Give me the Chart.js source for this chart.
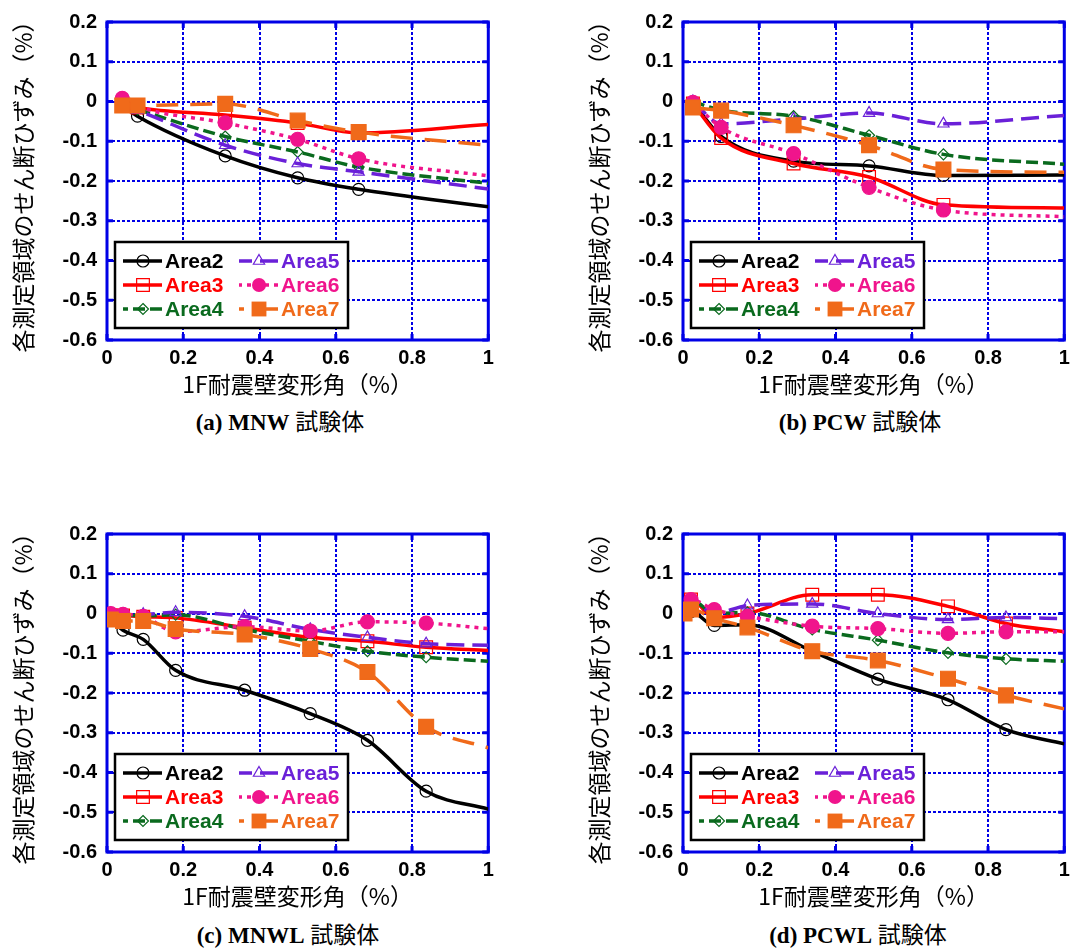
<!DOCTYPE html>
<html>
<head>
<meta charset="utf-8">
<script src="https://cdn.jsdelivr.net/npm/chart.js@4.4.1/dist/chart.umd.min.js"></script>
<style>
  html, body { margin: 0; padding: 0; background: #fff; overflow: hidden; width: 1071px; height: 949px; }
  .panel { position: absolute; width: 500px; height: 400px; }
  .cap { position: absolute; white-space: nowrap; transform: translate(-50%, -50%); font-size: 23px; color: #000; }
  .cap b { font-family: 'Liberation Serif', serif; font-weight: bold; }
  .cap span { font-family: 'Noto Sans CJK JP', sans-serif; }
</style>
</head>
<body>
<div class="panel" style="left:0px;top:0px"><canvas id="chartA" width="500" height="400"></canvas></div>
<div class="panel" style="left:576px;top:0px"><canvas id="chartB" width="500" height="400"></canvas></div>
<div class="panel" style="left:0px;top:512px"><canvas id="chartC" width="500" height="400"></canvas></div>
<div class="panel" style="left:576px;top:512px"><canvas id="chartD" width="500" height="400"></canvas></div>
<div class="cap" style="left:280px;top:420px"><b>(a) MNW</b> <span>試験体</span></div>
<div class="cap" style="left:860px;top:420px"><b>(b) PCW</b> <span>試験体</span></div>
<div class="cap" style="left:288px;top:933px"><b>(c) MNWL</b> <span>試験体</span></div>
<div class="cap" style="left:858px;top:933px"><b>(d) PCWL</b> <span>試験体</span></div>
<script>
// series names + axis ticks
var seriesNames = ['Area2', 'Area3', 'Area4', 'Area5', 'Area6', 'Area7'];
var xTickValues = [0, 0.2, 0.4, 0.6, 0.8, 1];
var xTickLabels = ['0', '0.2', '0.4', '0.6', '0.8', '1'];
var yTickValues = [-0.6, -0.5, -0.4, -0.3, -0.2, -0.1, 0, 0.1, 0.2];
var yTickLabels = ['-0.6', '-0.5', '-0.4', '-0.3', '-0.2', '-0.1', '0', '0.1', '0.2'];
var xTitle = '1F耐震壁変形角（%）';
var yTitle = '各測定領域のせん断ひずみ（%）';

// (a) MNW
var mnwX     = [0.04, 0.08, 0.31, 0.5, 0.66, 1];
var mnwArea2 = [-0.01, -0.037, -0.137, -0.192, -0.221, -0.265];
var mnwArea3 = [-0.005, -0.015, -0.034, -0.054, -0.079, -0.058];
var mnwArea4 = [-0.008, -0.02, -0.088, -0.127, -0.165, -0.206];
var mnwArea5 = [-0.008, -0.022, -0.11, -0.156, -0.177, -0.22];
var mnwArea6 = [0.008, -0.012, -0.054, -0.095, -0.144, -0.187];
var mnwArea7 = [-0.01, -0.01, -0.006, -0.048, -0.077, -0.11];

// (b) PCW
var pcwX     = [0.026, 0.1, 0.29, 0.488, 0.683, 1];
var pcwArea2 = [-0.002, -0.088, -0.15, -0.162, -0.186, -0.185];
var pcwArea3 = [-0.005, -0.092, -0.156, -0.19, -0.26, -0.268];
var pcwArea4 = [0.0, -0.022, -0.037, -0.085, -0.133, -0.158];
var pcwArea5 = [0.0, -0.056, -0.044, -0.029, -0.056, -0.035];
var pcwArea6 = [-0.002, -0.065, -0.131, -0.216, -0.273, -0.29];
var pcwArea7 = [-0.015, -0.023, -0.06, -0.11, -0.171, -0.178];

// (c) MNWL
var mnwlX     = [0.01, 0.042, 0.095, 0.18, 0.361, 0.533, 0.683, 0.837, 1];
var mnwlArea2 = [-0.015, -0.042, -0.065, -0.143, -0.193, -0.252, -0.319, -0.447, -0.492];
var mnwlArea3 = [-0.005, -0.005, -0.008, -0.011, -0.036, -0.06, -0.07, -0.085, -0.093];
var mnwlArea4 = [-0.002, -0.004, -0.006, -0.003, -0.04, -0.07, -0.095, -0.11, -0.12];
var mnwlArea5 = [0.0, -0.002, -0.002, 0.003, -0.007, -0.04, -0.06, -0.076, -0.08];
var mnwlArea6 = [0.0, -0.002, -0.007, -0.046, -0.033, -0.044, -0.021, -0.024, -0.038];
var mnwlArea7 = [-0.015, -0.019, -0.019, -0.039, -0.053, -0.089, -0.147, -0.285, -0.338];

// (d) PCWL
var pcwlX     = [0.004, 0.021, 0.082, 0.169, 0.339, 0.511, 0.695, 0.847, 1];
var pcwlArea2 = [0.0, 0.005, -0.03, -0.028, -0.095, -0.165, -0.217, -0.292, -0.328];
var pcwlArea3 = [0.01, 0.035, -0.01, 0.0, 0.047, 0.047, 0.018, -0.025, -0.046];
var pcwlArea4 = [0.01, 0.035, 0.0, 0.003, -0.04, -0.067, -0.099, -0.114, -0.12];
var pcwlArea5 = [0.01, 0.03, 0.0, 0.02, 0.024, 0.0, -0.015, -0.01, -0.013];
var pcwlArea6 = [0.01, 0.035, 0.01, -0.007, -0.032, -0.038, -0.05, -0.046, -0.046];
var pcwlArea7 = [0.0, 0.01, -0.012, -0.035, -0.095, -0.118, -0.164, -0.206, -0.24];

var blue = '#0000e6';
var styles = [
  { color: '#000000', dash: [], point: 'circle', radius: 6, filled: false },
  { color: '#ff0000', dash: [], point: 'rect', radius: 9, filled: false },
  { color: '#0a6a1e', dash: [12, 5], point: 'rectRot', radius: 5.5, filled: false },
  { color: '#6a20d8', dash: [18, 8], point: 'triangle', radius: 6.5, filled: false },
  { color: '#f0148c', dash: [4, 5], point: 'circle', radius: 7, filled: true },
  { color: '#f06a1a', dash: [22, 12], point: 'rect', radius: 10.5, filled: true }
];

function drawMarker(ctx, s, x, y) {
  var r = s.radius;
  ctx.beginPath();
  if (s.point === 'circle') {
    ctx.arc(x, y, r, 0, Math.PI * 2);
  } else if (s.point === 'rect') {
    var h = r * Math.SQRT1_2;
    ctx.rect(x - h, y - h, 2 * h, 2 * h);
  } else if (s.point === 'rectRot') {
    ctx.moveTo(x, y - r); ctx.lineTo(x + r, y); ctx.lineTo(x, y + r); ctx.lineTo(x - r, y); ctx.closePath();
  } else {
    ctx.moveTo(x, y - r); ctx.lineTo(x + r * 0.866, y + r * 0.5); ctx.lineTo(x - r * 0.866, y + r * 0.5); ctx.closePath();
  }
  if (s.filled) { ctx.fillStyle = s.color; ctx.fill(); }
  else { ctx.lineWidth = 1.2; ctx.strokeStyle = s.color; ctx.stroke(); }
}

var frame = {
  id: 'frame',
  beforeDatasetsDraw: function(chart) {
    var ctx = chart.ctx, a = chart.chartArea, sx = chart.scales.x, sy = chart.scales.y;
    ctx.save();
    ctx.strokeStyle = blue;
    ctx.lineWidth = 3;
    ctx.strokeRect(a.left, a.top, a.right - a.left, a.bottom - a.top);
    ctx.beginPath();
    xTickValues.forEach(function(v) {
      var px = sx.getPixelForValue(v);
      ctx.moveTo(px, a.bottom); ctx.lineTo(px, a.bottom - 6);
      ctx.moveTo(px, a.top); ctx.lineTo(px, a.top + 6);
    });
    yTickValues.forEach(function(v) {
      var py = sy.getPixelForValue(v);
      ctx.moveTo(a.left, py); ctx.lineTo(a.left + 6, py);
      ctx.moveTo(a.right, py); ctx.lineTo(a.right - 6, py);
    });
    ctx.stroke();
    ctx.restore();
  }
};

var boxLegend = {
  id: 'boxLegend',
  afterDraw: function(chart) {
    var ctx = chart.ctx, a = chart.chartArea;
    var bx = a.left + 8, by = a.bottom - 98, bw = 233, bh = 86;
    ctx.save();
    ctx.fillStyle = '#fff';
    ctx.fillRect(bx, by, bw, bh);
    ctx.lineWidth = 2.5;
    ctx.strokeStyle = '#000';
    ctx.strokeRect(bx, by, bw, bh);
    seriesNames.forEach(function(name, i) {
      var s = styles[i];
      var col = Math.floor(i / 3), row = i % 3;
      var y = by + 19 + row * 24;
      var x0 = bx + (col ? 124 : 8), x1 = x0 + 39;
      ctx.setLineDash(s.dash);
      ctx.strokeStyle = s.color;
      ctx.lineWidth = 3.5;
      ctx.beginPath(); ctx.moveTo(x1, y); ctx.lineTo(x0, y); ctx.stroke();
      ctx.setLineDash([]);
      drawMarker(ctx, s, x0 + 20, y);
      ctx.fillStyle = s.color;
      ctx.font = 'bold 21px "Liberation Sans", Arial, sans-serif';
      ctx.textBaseline = 'middle';
      ctx.fillText(name, x0 + 42, y + 1);
    });
    ctx.restore();
  }
};

function makeChart(id, xs, ys) {
  var datasets = ys.map(function(arr, i) {
    var s = styles[i];
    return {
      label: seriesNames[i],
      data: arr.map(function(v, k) { return { x: xs[k], y: v }; }),
      borderColor: s.color,
      borderWidth: 3.5,
      borderDash: s.dash,
      cubicInterpolationMode: 'monotone',
      pointStyle: s.point,
      pointRadius: function(c) { return c.raw && c.raw.x >= 1 ? 0 : s.radius; },
      pointBorderWidth: 1.2,
      pointBorderColor: s.color,
      pointBackgroundColor: s.filled ? s.color : 'rgba(0,0,0,0)',
      order: 6 - i
    };
  });
  var tickFont = { family: 'Liberation Sans', size: 20, weight: 'bold' };
  var titleFont = { family: 'Noto Sans CJK JP', size: 23 };
  return new Chart(id, {
    type: 'line',
    data: { datasets: datasets },
    options: {
      responsive: false,
      animation: false,
      layout: { padding: { top: 22, right: 8, left: 0, bottom: 0 } },
      plugins: { legend: { display: false }, tooltip: { enabled: false } },
      scales: {
        x: {
          type: 'linear', min: 0, max: 1,
          afterBuildTicks: function(sc) { sc.ticks = xTickValues.map(function(v) { return { value: v }; }); },
          afterFit: function(sc) { sc.height = 60; },
          ticks: {
            callback: function(v) { return xTickLabels[xTickValues.indexOf(v)]; },
            font: tickFont, color: '#000', padding: 6, maxRotation: 0, autoSkip: false
          },
          grid: { color: blue, lineWidth: 2, drawTicks: false },
          border: { display: false, dash: [3, 2] },
          title: { display: true, text: xTitle, font: titleFont, color: '#000', padding: { top: 0, bottom: 2 } }
        },
        y: {
          type: 'linear', min: -0.6, max: 0.2,
          afterBuildTicks: function(sc) { sc.ticks = yTickValues.map(function(v) { return { value: v }; }); },
          afterFit: function(sc) { sc.width = 107; },
          ticks: {
            callback: function(v) { return yTickLabels[yTickValues.indexOf(v)]; },
            font: tickFont, color: '#000', padding: 10, autoSkip: false
          },
          grid: { color: blue, lineWidth: 2, drawTicks: false },
          border: { display: false, dash: [3, 2] },
          title: { display: true, text: yTitle, font: titleFont, color: '#000', padding: { top: 9, bottom: 0 } }
        }
      }
    },
    plugins: [frame, boxLegend]
  });
}

makeChart('chartA', mnwX, [mnwArea2, mnwArea3, mnwArea4, mnwArea5, mnwArea6, mnwArea7]);
makeChart('chartB', pcwX, [pcwArea2, pcwArea3, pcwArea4, pcwArea5, pcwArea6, pcwArea7]);
makeChart('chartC', mnwlX, [mnwlArea2, mnwlArea3, mnwlArea4, mnwlArea5, mnwlArea6, mnwlArea7]);
makeChart('chartD', pcwlX, [pcwlArea2, pcwlArea3, pcwlArea4, pcwlArea5, pcwlArea6, pcwlArea7]);
</script>
</body>
</html>
